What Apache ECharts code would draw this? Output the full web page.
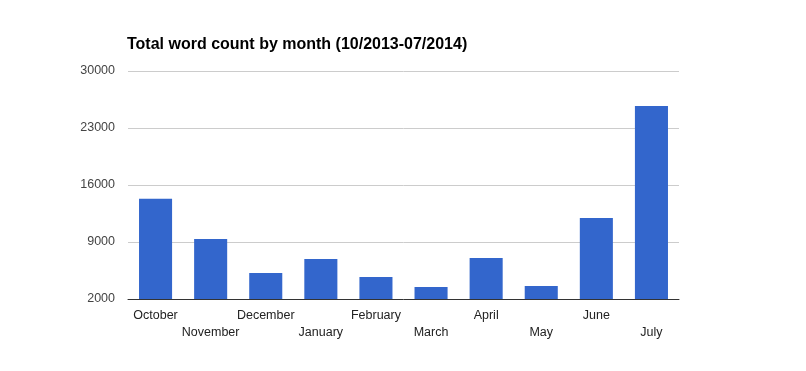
<!DOCTYPE html>
<html><head><meta charset="utf-8">
<script src="https://cdn.jsdelivr.net/npm/echarts@6/dist/echarts.min.js"></script>
<style>html,body{margin:0;padding:0;background:#fff}#c{width:806px;height:371px}</style>
</head><body><div id="c"></div>
<script>
const categories = ['October','November','December','January','February','March','April','May','June','July'];
const wordCounts = [14300, 9370, 5190, 6900, 4700, 3480, 7030, 3600, 11950, 25700];
const yTicks = [2000, 9000, 16000, 23000, 30000];

const chart = echarts.init(document.getElementById('c'), null, {renderer:'canvas'});
chart.setOption({
  animation:false,
  backgroundColor:'#fff',
  title:{
    text:'Total word count by month (10/2013-07/2014)',
    left:122, top:32,
    textStyle:{fontFamily:'Liberation Sans, Arial', fontSize:16, fontWeight:'bold', color:'#000'}
  },
  grid:{left:128, right:127, top:71, bottom:72, containLabel:false},
  xAxis:{
    type:'category', data:categories,
    axisTick:{show:false},
    axisLine:{lineStyle:{color:'#333', width:1}},
    axisLabel:{
      interval:0, margin:8, color:'#222',
      fontFamily:'Liberation Sans, Arial', fontSize:12.5, lineHeight:17,
      formatter:(v,i)=> i%2===1 ? '\n'+v : v
    }
  },
  yAxis:{
    type:'value', min:yTicks[0], max:yTicks[yTicks.length-1], interval:7000,
    axisLine:{show:false}, axisTick:{show:false},
    splitLine:{lineStyle:{color:'#ccc', width:1}},
    axisLabel:{margin:13, color:'#444', fontFamily:'Liberation Sans, Arial', fontSize:12.5,
      formatter:v=>String(v)}
  },
  series:[{
    type:'bar', data:wordCounts, barWidth:'60%',
    itemStyle:{color:'#3366cc'}
  }]
});
</script></body></html>
